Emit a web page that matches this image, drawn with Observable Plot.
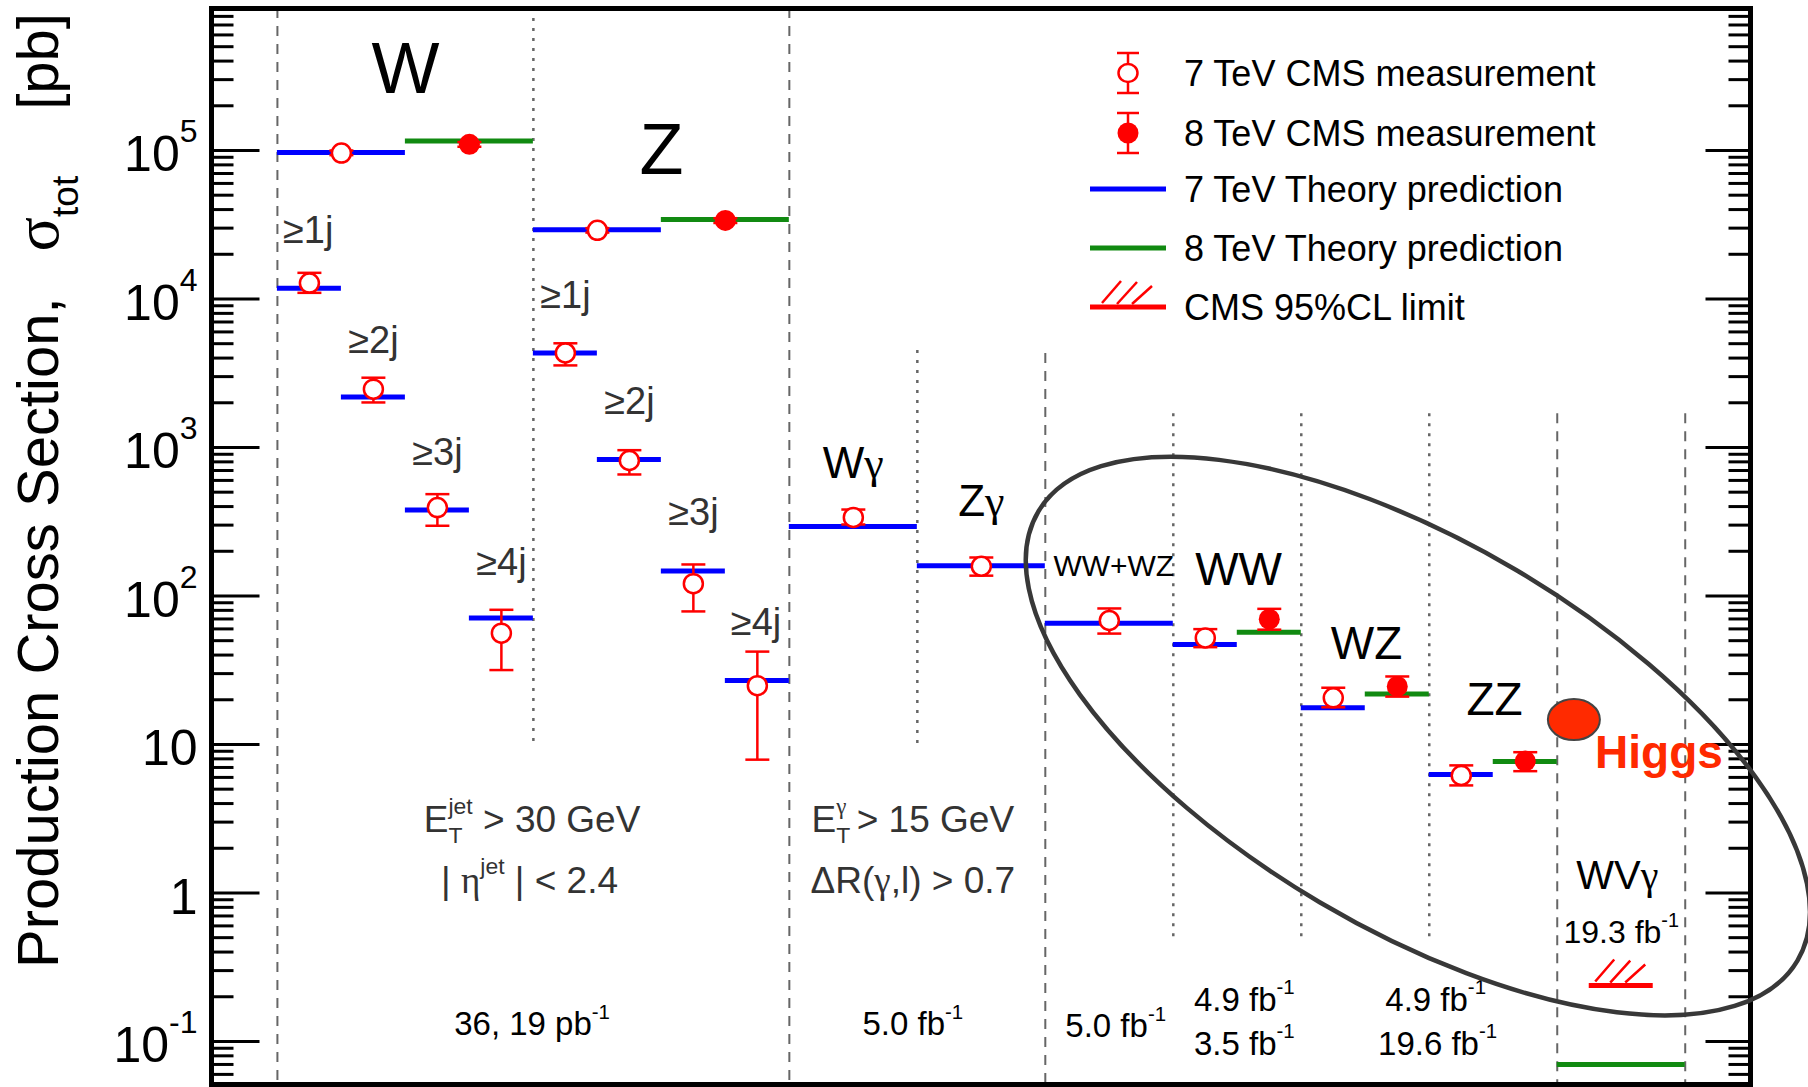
<!DOCTYPE html>
<html>
<head>
<meta charset="utf-8">
<script src="https://cdn.jsdelivr.net/npm/d3@7"></script>
<script src="https://cdn.jsdelivr.net/npm/@observablehq/plot@0.6"></script>
<style>
  html, body { margin: 0; padding: 0; background: #fff; }
  #chart { position: relative; width: 1808px; height: 1087px; overflow: hidden; }
  #chart svg text { font-family: "Liberation Sans", Arial, Helvetica, sans-serif; }
</style>
</head>
<body>
<div id="chart"></div>
<script>
// ---------------- DATA ----------------
// x: half-bin slots along the process axis; y: cross section in pb
const X_DOMAIN = [-1.03, 23.02];
const Y_DOMAIN = [0.0513, 9.04e5];

// 7 TeV theory predictions (blue): slot range and value
const theory7 = [
  {proc: "W",      x0: 0,  x1: 2,  v: 9.7e4},
  {proc: "Z",      x0: 4,  x1: 6,  v: 2.92e4},
  {proc: "W≥1j",   x0: 0,  x1: 1,  v: 1.18e4},
  {proc: "W≥2j",   x0: 1,  x1: 2,  v: 2.19e3},
  {proc: "W≥3j",   x0: 2,  x1: 3,  v: 379},
  {proc: "W≥4j",   x0: 3,  x1: 4,  v: 71},
  {proc: "Z≥1j",   x0: 4,  x1: 5,  v: 4.33e3},
  {proc: "Z≥2j",   x0: 5,  x1: 6,  v: 830},
  {proc: "Z≥3j",   x0: 6,  x1: 7,  v: 147},
  {proc: "Z≥4j",   x0: 7,  x1: 8,  v: 27},
  {proc: "Wγ",     x0: 8,  x1: 10, v: 294},
  {proc: "Zγ",     x0: 10, x1: 12, v: 160},
  {proc: "WW+WZ",  x0: 12, x1: 14, v: 65.6},
  {proc: "WW",     x0: 14, x1: 15, v: 47.1},
  {proc: "WZ",     x0: 16, x1: 17, v: 17.7},
  {proc: "ZZ",     x0: 18, x1: 19, v: 6.28}
];

// 8 TeV theory predictions (green)
const theory8 = [
  {proc: "W",   x0: 2,  x1: 4,  v: 1.16e5},
  {proc: "Z",   x0: 6,  x1: 8,  v: 3.43e4},
  {proc: "WW",  x0: 15, x1: 16, v: 57.0},
  {proc: "WZ",  x0: 17, x1: 18, v: 21.9},
  {proc: "ZZ",  x0: 19, x1: 20, v: 7.69},
  {proc: "WVγ", x0: 20, x1: 22, v: 0.070}
];

// 7 TeV CMS measurements (open circles)
const meas7 = [
  {proc: "W",     x: 1,    v: 9.6e4,  lo: 9.3e4,  hi: 1.0e5},
  {proc: "Z",     x: 5,    v: 2.9e4,  lo: 2.8e4,  hi: 3.0e4},
  {proc: "W≥1j",  x: 0.5,  v: 1.28e4, lo: 1.10e4, hi: 1.50e4},
  {proc: "W≥2j",  x: 1.5,  v: 2.47e3, lo: 2.01e3, hi: 2.95e3},
  {proc: "W≥3j",  x: 2.5,  v: 394,    lo: 297,    hi: 485},
  {proc: "W≥4j",  x: 3.5,  v: 56.2,   lo: 31.7,   hi: 80.7},
  {proc: "Z≥1j",  x: 4.5,  v: 4.33e3, lo: 3.57e3, hi: 5.03e3},
  {proc: "Z≥2j",  x: 5.5,  v: 817,    lo: 658,    hi: 959},
  {proc: "Z≥3j",  x: 6.5,  v: 121,    lo: 78.7,   hi: 163},
  {proc: "Z≥4j",  x: 7.5,  v: 24.9,   lo: 7.9,    hi: 42.2},
  {proc: "Wγ",    x: 9,    v: 338,    lo: 303,    hi: 382},
  {proc: "Zγ",    x: 11,   v: 158.5,  lo: 137,    hi: 181.6},
  {proc: "WW+WZ", x: 13,   v: 68.4,   lo: 55.8,   hi: 82.4},
  {proc: "WW",    x: 14.5, v: 52.2,   lo: 45.2,   hi: 59.8},
  {proc: "WZ",    x: 16.5, v: 20.6,   lo: 17.8,   hi: 24.1},
  {proc: "ZZ",    x: 18.5, v: 6.18,   lo: 5.30,   hi: 7.23}
];

// 8 TeV CMS measurements (filled circles)
const meas8 = [
  {proc: "W",  x: 3,    v: 1.10e5, lo: 1.06e5, hi: 1.14e5},
  {proc: "Z",  x: 7,    v: 3.38e4, lo: 3.25e4, hi: 3.5e4},
  {proc: "WW", x: 15.5, v: 69.8,   lo: 59.3,   hi: 81.9},
  {proc: "WZ", x: 17.5, v: 24.6,   lo: 21.0,   hi: 28.7},
  {proc: "ZZ", x: 19.5, v: 7.73,   lo: 6.61,   hi: 8.87}
];

// Higgs and the WVγ 95% CL limit
const higgs = [{proc: "Higgs", x: 20.26, v: 14.7}];
const limits = [{proc: "WVγ", x0: 20.5, x1: 21.5, x: 21, v: 0.238}];

// Separators between groups of processes
const sepDashed = [
  {x: 0,  top: Y_DOMAIN[1], bottom: Y_DOMAIN[0]},
  {x: 8,  top: Y_DOMAIN[1], bottom: Y_DOMAIN[0]},
  {x: 12, top: 4.3e3,       bottom: Y_DOMAIN[0]},
  {x: 20, top: 1.69e3,      bottom: Y_DOMAIN[0]},
  {x: 22, top: 1.69e3,      bottom: Y_DOMAIN[0]}
];
const sepDotted = [
  {x: 4,  top: Y_DOMAIN[1], bottom: 10},
  {x: 10, top: 4.5e3,       bottom: 10},
  {x: 14, top: 1.69e3,      bottom: 0.5},
  {x: 16, top: 1.69e3,      bottom: 0.5},
  {x: 18, top: 1.69e3,      bottom: 0.5}
];

// Y tick labels
const majorTicks = [0.1, 1, 10, 100, 1e3, 1e4, 1e5];
const majorTickLabels = ["10^{-1}", "1", "10", "10^{2}", "10^{3}", "10^{4}", "10^{5}"];

// Text annotations (placed in data coordinates)
const procLabels = [
  {text: "W",     x: 2,     y: 3.5e5, size: 72},
  {text: "Z",     x: 6,     y: 1.0e5, size: 72},
  {text: "Wγ",    x: 9,     y: 774,   size: 44},
  {text: "Zγ",    x: 11,    y: 429,   size: 44},
  {text: "WW+WZ", x: 13.07, y: 158,   size: 30},
  {text: "WW",    x: 15.02, y: 149,   size: 46},
  {text: "WZ",    x: 17.02, y: 47.1,  size: 46},
  {text: "ZZ",    x: 19.02, y: 19.95, size: 46},
  {text: "WVγ",   x: 20.94, y: 1.29,  size: 40},
  {text: "19.3 fb^{-1}", x: 21.0, y: 0.542, size: 32}
];
const jetLabels = [
  {text: "≥1j", x: 0.48, y: 2.86e4},
  {text: "≥2j", x: 1.5,  y: 5.24e3},
  {text: "≥3j", x: 2.5,  y: 925},
  {text: "≥4j", x: 3.5,  y: 168},
  {text: "≥1j", x: 4.5,  y: 1.05e4},
  {text: "≥2j", x: 5.5,  y: 2.03e3},
  {text: "≥3j", x: 6.5,  y: 365},
  {text: "≥4j", x: 7.48, y: 65.6}
];
const cutLabels = [
  {text: "E_{T}^{jet} > 30 GeV", x: 3.98, y: 3.08},
  {text: "| η^{jet} | < 2.4",    x: 3.94, y: 1.21},
  {text: "E_{T}^{γ} > 15 GeV",   x: 9.93, y: 3.08},
  {text: "ΔR(γ,l) > 0.7",        x: 9.93, y: 1.21}
];
const lumiLabels = [
  {text: "36, 19 pb^{-1}", x: 3.98,  y: 0.13},
  {text: "5.0 fb^{-1}",    x: 9.93,  y: 0.13},
  {text: "5.0 fb^{-1}",    x: 13.1,  y: 0.126},
  {text: "4.9 fb^{-1}",    x: 15.11, y: 0.189},
  {text: "3.5 fb^{-1}",    x: 15.11, y: 0.0955},
  {text: "4.9 fb^{-1}",    x: 18.1,  y: 0.189},
  {text: "19.6 fb^{-1}",   x: 18.13, y: 0.0955}
];
const higgsLabel = [{text: "Higgs", x: 21.59, y: 8.69}];

// Ellipse highlighting the diboson processes (centre in data space)
const bigEllipse = {x: 17.83, y: 11.3};

const legendItems = [
  {label: "7 TeV CMS measurement",    kind: "open"},
  {label: "8 TeV CMS measurement",    kind: "filled"},
  {label: "7 TeV Theory prediction",  kind: "blue"},
  {label: "8 TeV Theory prediction",  kind: "green"},
  {label: "CMS 95%CL limit",          kind: "limit"}
];

// ---------------- STYLE ----------------
const RED = "#ff0000", BLUE = "#0000ff", GREEN = "#118a11", HIGGS = "#ff2a00";
const FONT = "Liberation Sans, Arial, Helvetica, sans-serif";
const GREEK_FONT = "Liberation Serif, DejaVu Serif, serif";

// Custom symbols (pixel sized)
const capSym = {draw(c) { c.moveTo(-12, 0); c.lineTo(12, 0); }};
const tickSym = (len) => ({draw(c) { c.moveTo(0, 0); c.lineTo(len, 0); }});
const hatchSym = {draw(c) {
  c.moveTo(-26, -4); c.lineTo(-7, -26);
  c.moveTo(-11, -3); c.lineTo(9, -25);
  c.moveTo(4, -3);   c.lineTo(24, -21);
}};
function ellipseSym(rx, ry) {
  const k = 0.5522847;
  return {draw(c) {
    c.moveTo(rx, 0);
    c.bezierCurveTo(rx, ry * k, rx * k, ry, 0, ry);
    c.bezierCurveTo(-rx * k, ry, -rx, ry * k, -rx, 0);
    c.bezierCurveTo(-rx, -ry * k, -rx * k, -ry, 0, -ry);
    c.bezierCurveTo(rx * k, -ry, rx, -ry * k, rx, 0);
    c.closePath();
  }};
}

const minorTicks = d3.scaleLog().domain(Y_DOMAIN).ticks().filter(t => !majorTicks.some(m => Math.abs(m - t) / m < 1e-9));

const plot = Plot.plot({
  width: 1808,
  height: 1087,
  marginLeft: 211,
  marginRight: 58,
  marginTop: 8,
  marginBottom: 3,
  style: {background: "white", overflow: "visible", fontFamily: FONT},
  x: {domain: X_DOMAIN, axis: null},
  y: {type: "log", domain: Y_DOMAIN, axis: null},
  marks: [
    // separators
    Plot.ruleX(sepDashed, {x: "x", y1: "top", y2: "bottom", stroke: "#666", strokeWidth: 2, strokeDasharray: "10,8"}),
    Plot.ruleX(sepDotted, {x: "x", y1: "top", y2: "bottom", stroke: "#666", strokeWidth: 2.5, strokeDasharray: "3,7"}),
    // axis ticks (inside the frame, left and right)
    Plot.dot(majorTicks, {x: X_DOMAIN[0], y: d => d, symbol: tickSym(48), stroke: "black", strokeWidth: 3, fill: "none"}),
    Plot.dot(minorTicks, {x: X_DOMAIN[0], y: d => d, symbol: tickSym(22), stroke: "black", strokeWidth: 3, fill: "none"}),
    Plot.dot(majorTicks, {x: X_DOMAIN[1], y: d => d, symbol: tickSym(-45), stroke: "black", strokeWidth: 3, fill: "none"}),
    Plot.dot(minorTicks, {x: X_DOMAIN[1], y: d => d, symbol: tickSym(-22), stroke: "black", strokeWidth: 3, fill: "none"}),
    Plot.text(majorTicks, {x: X_DOMAIN[0], y: d => d, text: (d, i) => majorTickLabels[i], textAnchor: "end", dx: -14, dy: 5, fontSize: 50, fill: "black"}),
    // theory predictions
    Plot.ruleY(theory7, {y: "v", x1: "x0", x2: "x1", stroke: BLUE, strokeWidth: 5}),
    Plot.ruleY(theory8, {y: "v", x1: "x0", x2: "x1", stroke: GREEN, strokeWidth: 5}),
    // limit
    Plot.ruleY(limits, {y: "v", x1: "x0", x2: "x1", stroke: RED, strokeWidth: 5}),
    Plot.dot(limits, {x: "x", y: "v", symbol: hatchSym, stroke: RED, strokeWidth: 2.5, fill: "none"}),
    // error bars
    Plot.ruleX(meas7, {x: "x", y1: "lo", y2: "hi", stroke: RED, strokeWidth: 2.5}),
    Plot.dot(meas7, {x: "x", y: "lo", symbol: capSym, stroke: RED, strokeWidth: 2.5, fill: "none"}),
    Plot.dot(meas7, {x: "x", y: "hi", symbol: capSym, stroke: RED, strokeWidth: 2.5, fill: "none"}),
    Plot.ruleX(meas8, {x: "x", y1: "lo", y2: "hi", stroke: RED, strokeWidth: 2.5}),
    Plot.dot(meas8, {x: "x", y: "lo", symbol: capSym, stroke: RED, strokeWidth: 2.5, fill: "none"}),
    Plot.dot(meas8, {x: "x", y: "hi", symbol: capSym, stroke: RED, strokeWidth: 2.5, fill: "none"}),
    // markers
    Plot.dot(meas7, {x: "x", y: "v", r: 9.5, fill: "white", stroke: RED, strokeWidth: 2.5}),
    Plot.dot(meas8, {x: "x", y: "v", r: 10.5, fill: RED, stroke: "none"}),
    Plot.dot(higgs, {x: "x", y: "v", symbol: ellipseSym(26, 20.5), fill: HIGGS, stroke: "#444", strokeWidth: 2}),
    // labels
    Plot.text(procLabels, {x: "x", y: "y", text: "text", fontSize: d => d.size, fill: "black"}),
    Plot.text(jetLabels, {x: "x", y: "y", text: "text", fontSize: 38, fill: "#333"}),
    Plot.text(cutLabels, {x: "x", y: "y", text: "text", fontSize: 37, fill: "#333"}),
    Plot.text(lumiLabels, {x: "x", y: "y", text: "text", fontSize: 33, fill: "black"}),
    Plot.text(higgsLabel, {x: "x", y: "y", text: "text", fontSize: 46, fontWeight: "bold", fill: HIGGS}),
    Plot.frame({stroke: "black", strokeWidth: 5})
  ]
});

document.getElementById("chart").appendChild(plot);

// ---------------- rich text (super/subscripts, Greek glyphs) ----------------
const SVGNS = "http://www.w3.org/2000/svg";
function tokenize(s) {
  const out = []; let i = 0, buf = "";
  while (i < s.length) {
    const c = s[i];
    if ((c === "^" || c === "_") && s[i + 1] === "{") {
      if (buf) { out.push({t: "n", s: buf}); buf = ""; }
      const j = s.indexOf("}", i + 2);
      out.push({t: c === "^" ? "sup" : "sub", s: s.slice(i + 2, j)});
      i = j + 1;
    } else { buf += c; i++; }
  }
  if (buf) out.push({t: "n", s: buf});
  return out;
}
function richify(el, opt = {}) {
  const raw = el.textContent;
  if (!/[\^_]\{/.test(raw)) return;
  const fs = parseFloat(getComputedStyle(el).fontSize);
  const scale = opt.scale ?? 0.62, supShift = opt.sup ?? 0.5, subShift = opt.sub ?? 0.28;
  const toks = tokenize(raw);
  el.textContent = "";
  let cur = 0, prev = null, lastSubW = 0;
  for (const tk of toks) {
    const ts = document.createElementNS(SVGNS, "tspan");
    const target = tk.t === "sup" ? -supShift * fs : tk.t === "sub" ? subShift * fs : 0;
    if (target !== cur) ts.setAttribute("dy", target - cur);
    cur = target;
    if (tk.t !== "n") ts.setAttribute("font-size", fs * scale);
    if (tk.t === "sup" && prev === "sub") ts.setAttribute("dx", -lastSubW);
    ts.textContent = tk.s;
    el.appendChild(ts);
    if (tk.t === "sub") lastSubW = ts.getComputedTextLength();
    prev = tk.t;
  }
}
// Greek letters in a Symbol-like serif face, as in the original
function greekify(el) {
  const walker = document.createTreeWalker(el, NodeFilter.SHOW_TEXT);
  const nodes = [];
  while (walker.nextNode()) nodes.push(walker.currentNode);
  for (const n of nodes) {
    if (!/[γησ]/.test(n.data)) continue;
    const frag = document.createDocumentFragment();
    for (const part of n.data.split(/([γησ])/)) {
      if (!part) continue;
      if (/^[γησ]$/.test(part)) {
        const ts = document.createElementNS(SVGNS, "tspan");
        ts.setAttribute("font-family", GREEK_FONT);
        ts.textContent = part;
        frag.appendChild(ts);
      } else frag.appendChild(document.createTextNode(part));
    }
    n.parentNode.replaceChild(frag, n);
  }
}
d3.select(plot).selectAll("text").each(function() {
  const t = this.textContent;
  if (/^10\^\{/.test(t)) richify(this, {scale: 0.64, sup: 0.58});
  else richify(this);
  greekify(this);
});

// ---------------- annotations drawn with the plot's scales ----------------
const svg = d3.select(plot);
const sx = v => plot.scale("x").apply(v);
const sy = v => plot.scale("y").apply(v);

// big ellipse around diboson / Higgs region
svg.append("ellipse")
  .attr("transform", `translate(${sx(bigEllipse.x)},${sy(bigEllipse.y)}) rotate(30.6)`)
  .attr("rx", 441).attr("ry", 193)
  .attr("fill", "none").attr("stroke", "#383838").attr("stroke-width", 4.5);

// y-axis title
const yt = svg.append("text")
  .attr("transform", "translate(58,968) rotate(-90)")
  .attr("text-anchor", "start")
  .attr("font-size", 58).attr("fill", "black")
  .style("font-family", FONT);
yt.append("tspan").text("Production Cross Section,");
yt.append("tspan").attr("dx", 46).attr("font-family", GREEK_FONT).attr("font-size", 64).text("σ");
yt.append("tspan").attr("dy", 20).attr("font-size", 37).text("tot");
yt.append("tspan").attr("dy", -20).attr("dx", 66).text("[pb]");

// legend
const lg = svg.append("g").attr("class", "legend").attr("text-anchor", "start").style("font-family", FONT);
const rowY = [73, 133, 189, 248, 307];
const symX = 1128, textX = 1184;
legendItems.forEach((it, i) => {
  const y = rowY[i];
  if (it.kind === "open" || it.kind === "filled") {
    lg.append("line").attr("x1", symX).attr("x2", symX).attr("y1", y - 20).attr("y2", y + 20).attr("stroke", RED).attr("stroke-width", 2.5);
    lg.append("line").attr("x1", symX - 11).attr("x2", symX + 11).attr("y1", y - 20).attr("y2", y - 20).attr("stroke", RED).attr("stroke-width", 2.5);
    lg.append("line").attr("x1", symX - 11).attr("x2", symX + 11).attr("y1", y + 20).attr("y2", y + 20).attr("stroke", RED).attr("stroke-width", 2.5);
    if (it.kind === "open")
      lg.append("ellipse").attr("cx", symX).attr("cy", y).attr("rx", 9.5).attr("ry", 9).attr("fill", "white").attr("stroke", RED).attr("stroke-width", 2.5);
    else
      lg.append("ellipse").attr("cx", symX).attr("cy", y).attr("rx", 10.5).attr("ry", 10.5).attr("fill", RED);
  } else {
    const col = it.kind === "blue" ? BLUE : it.kind === "green" ? GREEN : RED;
    lg.append("line").attr("x1", 1090).attr("x2", 1166).attr("y1", y).attr("y2", y).attr("stroke", col).attr("stroke-width", 5);
    if (it.kind === "limit") {
      [[-26, -4, -7, -26], [-11, -3, 9, -25], [4, -3, 24, -21]].forEach(([a, b, c, d]) =>
        lg.append("line").attr("x1", symX + a).attr("y1", y + b).attr("x2", symX + c).attr("y2", y + d)
          .attr("stroke", RED).attr("stroke-width", 2.5));
    }
  }
  lg.append("text").attr("x", textX).attr("y", y).attr("dy", "0.35em")
    .attr("text-anchor", "start")
    .attr("font-size", 36).attr("fill", "black").text(it.label);
});
</script>
</body>
</html>
